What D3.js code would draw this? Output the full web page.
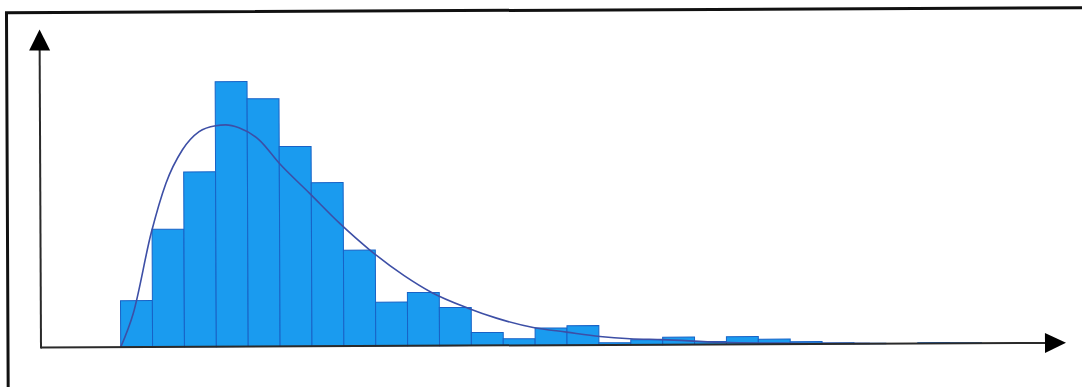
<!DOCTYPE html>
<html>
<head>
<meta charset="utf-8">
<script src="https://cdn.jsdelivr.net/npm/d3@7"></script>
<style>
  body { margin: 0; background: #fff; }
</style>
</head>
<body>
<div id="chart"></div>
<script>
// histogram bins: lower edge and bar height
const binStart = [0, 1, 2, 3, 4, 5, 6, 7, 8, 9, 10, 11, 12, 13, 14, 15, 16, 17, 18, 19, 20, 21, 22, 23, 24, 25, 26];
const binValue = [17.5, 44.4, 66.0, 100.0, 93.5, 75.4, 61.7, 36.2, 16.5, 20.1, 14.4, 4.9, 2.5, 6.5, 7.3,
                  0.8, 1.9, 2.8, 1.1, 2.9, 1.9, 0.9, 0.4, 0.2, 0, 0.3, 0.2];
const binWidth = 1;

// fitted curve, points
const curveX = [0, 0.4, 0.97, 1.44, 1.96, 2.49, 3.01, 3.32, 3.74, 4.37, 5.0, 5.94, 6.88, 7.82, 8.9,
                9.76, 10.9, 11.79, 12.94, 13.99, 15.03, 15.97, 17.0, 18.8, 21.3, 23.5];
const curveY = [0, 12.8, 42.9, 61.7, 74.3, 81.2, 83.4, 83.7, 82.6, 78.0, 69.1, 57.8, 46.4, 36.3, 26.5,
                20.1, 14.1, 10.3, 6.7, 4.9, 3.2, 2.3, 1.9, 0.8, 0.3, 0.1];

const xDomain = [-2.5, 29.65];
const yDomain = [0, 120];

(function () {
  const width = 1082, height = 387;
  const x0 = 41, x1 = 1066, y0 = 347.5, y1 = 29.5;

  const svg = d3.select("#chart")
    .append("svg")
    .attr("width", width)
    .attr("height", height);

  // the scan is a little crooked, so tilt everything a touch
  const g = svg.append("g")
    .attr("transform", `rotate(-0.26, ${x0}, ${y0})`);

  // frame
  g.append("rect")
    .attr("x", 8).attr("y", 12.5)
    .attr("width", 1120).attr("height", 420)
    .attr("fill", "none")
    .attr("stroke", "#111")
    .attr("stroke-width", 3);

  const x = d3.scaleLinear().domain(xDomain).range([x0, x1]);
  const y = d3.scaleLinear().domain(yDomain).range([y0, y1]);

  const bins = binStart.map((s, i) => ({ start: s, value: binValue[i] }));

  g.selectAll(".bar")
    .data(bins)
    .enter()
    .append("rect")
    .attr("class", "bar")
    .attr("x", d => x(d.start))
    .attr("y", d => y(d.value))
    .attr("width", d => x(d.start + binWidth) - x(d.start))
    .attr("height", d => y(0) - y(d.value))
    .attr("fill", "#1a9bef")
    .attr("stroke", "#1862c6")
    .attr("stroke-width", 1);

  const line = d3.line()
    .x(d => x(d[0]))
    .y(d => y(d[1]))
    .curve(d3.curveMonotoneX);

  g.append("path")
    .attr("fill", "none")
    .attr("stroke", "#3d4fa6")
    .attr("stroke-width", 1.6)
    .attr("d", line(curveX.map((v, i) => [v, curveY[i]])));

  // axes with arrow heads
  const axisColor = "#2a2a2a";
  g.append("line")
    .attr("x1", x0).attr("y1", y0)
    .attr("x2", x1 - 10).attr("y2", y0)
    .attr("stroke", axisColor).attr("stroke-width", 2);
  g.append("line")
    .attr("x1", x0).attr("y1", y0 + 1)
    .attr("x2", x0).attr("y2", y1 + 10)
    .attr("stroke", axisColor).attr("stroke-width", 2);

  g.append("path")
    .attr("d", `M${x1},${y0} L${x1 - 21},${y0 - 10} L${x1 - 21},${y0 + 10} Z`)
    .attr("fill", "#000");
  g.append("path")
    .attr("d", `M${x0},${y1} L${x0 - 10.5},${y1 + 21} L${x0 + 10.5},${y1 + 21} Z`)
    .attr("fill", "#000");
})();
</script>
</body>
</html>
